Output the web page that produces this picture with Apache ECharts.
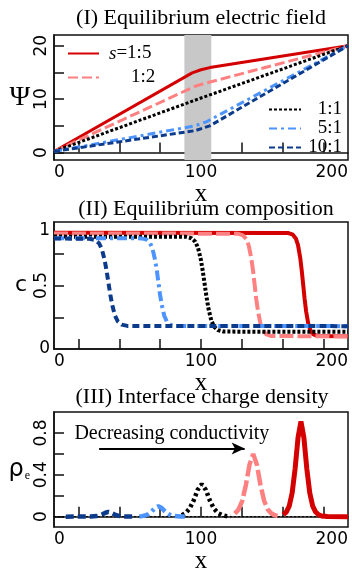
<!DOCTYPE html>
<html lang="en">
<head>
<meta charset="UTF-8">
<title>Equilibrium profiles</title>
<script src="https://cdn.jsdelivr.net/npm/echarts@6/dist/echarts.min.js"></script>
<style>
    html, body { margin: 0; padding: 0; background: #fff; }
    #main { width: 352px; height: 575px; }
</style>
</head>
<body>
<div id="main"></div>
<script type="text/javascript">

    // conductivity ratios
    var names = ['s=1:5', '1:2', '1:1', '5:1', '10:1'];

    // (I) electric potential, [x, psi]
    var psi15 = [[0, 0.2], [94, 14.9], [100, 15.5], [106, 15.9], [200, 20]];
    var psi12 = [[0, 0.2], [96, 12.4], [102, 12.9], [200, 20]];
    var psi11 = [[0, 0.2], [100, 10.2], [200, 20]];
    var psi51 = [[0, 0.2], [96, 5.0], [104, 5.8], [200, 20]];
    var psi101 = [[0, 0.2], [96, 4.1], [106, 5.0], [200, 20]];
    var band = [88.7, 107];

    // (II) composition, [x, c]
    var c15 = [[0, 0.915], [159.5, 0.913], [162.5, 0.900], [164.5, 0.871], [166, 0.818], [167.5, 0.718], [168.5, 0.621], [169.5, 0.508],
        [170.5, 0.394], [171.5, 0.297], [173, 0.197], [174.5, 0.144], [176.5, 0.115], [179.5, 0.102], [200, 0.10]];
    var c12 = [[0, 0.91], [125.1, 0.908], [128.5, 0.895], [130.8, 0.866], [132.5, 0.814], [134.2, 0.714], [135.4, 0.618], [136.5, 0.505],
        [137.6, 0.392], [138.8, 0.296], [140.5, 0.196], [142.2, 0.144], [144.5, 0.115], [147.9, 0.102], [200, 0.10]];
    var c11 = [[0, 0.885], [89.6, 0.883], [93.5, 0.872], [96.1, 0.845], [98, 0.796], [99.9, 0.704], [101.2, 0.614], [102.5, 0.51],
        [103.8, 0.406], [105.1, 0.317], [107, 0.224], [108.9, 0.176], [111.5, 0.149], [115.4, 0.137], [200, 0.135]];
    var c51 = [[0, 0.873], [59.6, 0.871], [63, 0.861], [65.3, 0.836], [67, 0.791], [68.7, 0.705], [69.9, 0.623], [71, 0.527],
        [72.1, 0.430], [73.3, 0.348], [75, 0.262], [76.7, 0.217], [79, 0.192], [82.4, 0.182], [200, 0.18]];
    var c101 = [[0, 0.87], [24.1, 0.868], [28, 0.858], [30.6, 0.833], [32.5, 0.788], [34.4, 0.703], [35.7, 0.621], [37, 0.525],
        [38.3, 0.429], [39.6, 0.347], [41.5, 0.262], [43.4, 0.217], [46, 0.192], [49.9, 0.182], [200, 0.18]];

    // (III) interface charge density, [x, rho]
    var r15 = [[156, 0.02], [158, 0.044], [160, 0.1], [162, 0.226], [164, 0.455], [166, 0.754], [168, 0.91], [170, 0.754],
        [172, 0.455], [174, 0.226], [176, 0.1], [178, 0.044], [180, 0.018], [182, 0.007], [186, 0.002], [200, 0]];
    var r12 = [[123, 0.029], [125.5, 0.067], [128, 0.149], [130.5, 0.3], [133, 0.497], [135.5, 0.6], [138, 0.497], [140.5, 0.3],
        [143, 0.149], [145.5, 0.067], [148, 0.029], [150.5, 0.012], [152, 0.006]];
    var r11 = [[87, 0.014], [89.5, 0.034], [92.25, 0.077], [95, 0.155], [97.75, 0.257], [100.5, 0.31], [103.25, 0.257], [106, 0.155],
        [108.75, 0.077], [111.5, 0.034], [114.25, 0.015], [117, 0.006], [120, 0.002]];
    var r51 = [[58, 0.002], [59.75, 0.005], [62, 0.011], [64.25, 0.025], [66.5, 0.05], [68.75, 0.083], [71, 0.1], [73.25, 0.083],
        [75.5, 0.05], [77.75, 0.025], [80, 0.011], [82.25, 0.005], [86, 0.001], [90, 0]];
    var r101 = [[8, 0], [25, 0.001], [29, 0.005], [31, 0.011], [33, 0.0225], [35, 0.037], [37, 0.045], [39, 0.037],
        [41, 0.0225], [43, 0.011], [45, 0.005], [49, 0.001], [55, 0]];
    var zeroLine = [[0, 0], [200, 0]];
    var arrowY = 0.65;
    var arrowX = [30.7, 129.7];

    // ticks
    var xTicks = [16.7, 44.4, 72.2, 100, 127.8, 155.6, 183.3];
    var xLabels = [0, 100, 200];

    var colors = ['#d40000', '#ff8080', '#000000', '#4d94ff', '#0d3b8c'];

    var myChart = echarts.init(document.getElementById('main'));

    var axisCol = '#111';

    function xAxis(gi) {
        return {
            type: 'value', gridIndex: gi, min: 0, max: 200,
            axisLine: {lineStyle: {color: axisCol, width: 1.5}},
            axisTick: {inside: true, length: 10, customValues: xTicks, lineStyle: {color: axisCol, width: 1.5}},
            axisLabel: {customValues: xLabels, fontFamily: 'DejaVu Sans', fontSize: 17, color: '#000', margin: 4,
                alignMinLabel: 'left', alignMaxLabel: 'right'},
            splitLine: {show: false},
            name: 'x', nameLocation: 'middle', nameGap: 19,
            nameTextStyle: {fontFamily: 'Liberation Serif', fontSize: 25, color: '#000'}
        };
    }

    function yAxis(gi, min, max, ticks, labels, rotate) {
        return {
            type: 'value', gridIndex: gi, min: min, max: max, position: 'left',
            axisLine: {lineStyle: {color: axisCol, width: 1.5}},
            axisTick: {inside: true, length: 10, customValues: ticks, lineStyle: {color: axisCol, width: 1.5}},
            axisLabel: {customValues: labels, rotate: rotate, fontFamily: 'DejaVu Sans', fontSize: 17, color: '#000', margin: 4},
            splitLine: {show: false}
        };
    }

    var y1 = yAxis(0, -1.4, 22, [0, 5, 10, 15, 20], [0, 10, 20], 90);
    y1.name = 'Ψ'; y1.nameLocation = 'middle'; y1.nameRotate = 0; y1.nameGap = 19;
    y1.nameTextStyle = {fontFamily: 'Liberation Serif', fontSize: 28, color: '#000'};

    var y2 = yAxis(1, 0, 1, [0.25, 0.5, 0.75], [0.5], 90);
    y2.name = 'c'; y2.nameLocation = 'middle'; y2.nameRotate = 0; y2.nameGap = 27;
    y2.nameTextStyle = {fontFamily: 'DejaVu Sans', fontSize: 22, color: '#000'};
    // upright 0 and 1
    var y2b = yAxis(1, 0, 1, [], [0, 1], 0);
    y2b.axisLine = {show: false};
    y2b.axisTick = {show: false};
    y2b.axisLabel.verticalAlignMaxLabel = 'top';

    var y3 = yAxis(2, -0.1, 1.0, [0, 0.2, 0.4, 0.6, 0.8], [0, 0.4, 0.8], 90);
    y3.name = '{r|ρ}{e|e}'; y3.nameLocation = 'middle'; y3.nameRotate = 0; y3.nameGap = 21;
    y3.nameTextStyle = {
        color: '#000',
        rich: {
            r: {fontFamily: 'DejaVu Sans', fontSize: 24, color: '#000'},
            e: {fontFamily: 'Liberation Serif', fontSize: 12, color: '#000', verticalAlign: 'bottom', padding: [8, 0, 0, 1]}
        }
    };

    // dash patterns per panel
    var dash1 = ['solid', [10, 4], [3, 2], [8, 4, 3, 4], [6, 3]];
    var dash2 = ['solid', [14, 4], [3, 2], [10, 4, 3, 4], [7, 4]];
    var dash3 = ['solid', [16, 4], [3, 3], [10, 4, 3, 4], [8, 4]];

    function line(name, data, gi, yi, k, width, dash) {
        return {
            name: name, type: 'line', xAxisIndex: gi, yAxisIndex: yi, data: data,
            symbol: 'none', smooth: false, z: 3,
            lineStyle: {color: colors[k], width: width, type: dash[k], cap: 'butt'},
            itemStyle: {color: colors[k]}
        };
    }

    var panel1 = [psi15, psi12, psi11, psi51, psi101];
    var panel2 = [c15, c12, c11, c51, c101];
    var panel3 = [r15, r12, r11, r51, r101];

    var series = [];
    // interface band
    series.push({
        type: 'line', xAxisIndex: 0, yAxisIndex: 0, data: [], symbol: 'none', z: 1, silent: true,
        markArea: {silent: true, itemStyle: {color: '#c8c8c8'}, data: [[{xAxis: band[0]}, {xAxis: band[1]}]]}
    });
    for (var i = 0; i < 5; i++) {
        series.push(line(names[i], panel1[i], 0, 0, i, 3, dash1));
    }
    for (var i = 0; i < 5; i++) {
        series.push(line(names[i], panel2[i], 1, 1, i, 4, dash2));
    }
    series.push({
        name: 'zero', type: 'line', xAxisIndex: 2, yAxisIndex: 3, data: zeroLine, symbol: 'none', z: 2,
        lineStyle: {color: '#000', width: 1, type: [2, 2]},
        markLine: {
            silent: true, symbol: ['none', 'arrow'], symbolSize: [9, 13],
            lineStyle: {color: '#000', width: 2, type: 'solid'},
            label: {show: true, position: 'middle', formatter: 'Decreasing conductivity', distance: 5,
                fontFamily: 'Liberation Serif', fontSize: 20, color: '#000'},
            data: [[{coord: [arrowX[0], arrowY]}, {coord: [arrowX[1], arrowY]}]]
        }
    });
    for (var i = 0; i < 5; i++) {
        series.push(line(names[i], panel3[i], 2, 3, i, i === 0 ? 5 : 4.5, dash3));
    }

    var titleFont = {fontFamily: 'Liberation Serif', fontSize: 22, fontWeight: 'normal', color: '#000'};

    var option = {
        animation: false,
        title: [
            {text: '(I) Equilibrium electric field', left: 201, top: 7, textAlign: 'center', padding: 0, textStyle: titleFont},
            {text: '(II) Equilibrium composition', left: 206, top: 198, textAlign: 'center', padding: 0, textStyle: titleFont},
            {text: '(III) Interface charge density', left: 202, top: 386, textAlign: 'center', padding: 0, textStyle: titleFont}
        ],
        legend: [
            {
                data: ['s=1:5', '1:2'], orient: 'vertical', left: 67, top: 44, padding: 0,
                itemWidth: 31, itemHeight: 14, itemGap: 5,
                itemStyle: {opacity: 0},
                formatter: function (n) {
                    if (n === 's=1:5') return '{g| }{i|s}{t|=1:5}';
                    return '{sp| }{t|' + n + '}';
                },
                textStyle: {
                    rich: {
                        g: {width: 5},
                        sp: {width: 27},
                        i: {fontFamily: 'Liberation Serif', fontStyle: 'italic', fontSize: 19, lineHeight: 16, color: '#000'},
                        t: {fontFamily: 'Liberation Serif', fontSize: 19, lineHeight: 16, color: '#000'}
                    }
                }
            },
            {
                data: ['1:1', '5:1', '10:1'], orient: 'vertical', left: 268, top: 100, padding: 0,
                itemWidth: 32, itemHeight: 14, itemGap: 0,
                itemStyle: {opacity: 0},
                formatter: function (n) {
                    return '{r|' + n + '}';
                },
                textStyle: {
                    rich: {
                        r: {fontFamily: 'Liberation Serif', fontSize: 19, lineHeight: 16, color: '#000', width: 36, align: 'right'}
                    }
                }
            }
        ],
        grid: [
            {left: 54, right: 4, top: 35, height: 125, show: true, borderColor: axisCol, borderWidth: 1.5},
            {left: 54, right: 4, top: 222, height: 127, show: true, borderColor: axisCol, borderWidth: 1.5},
            {left: 54, right: 4, top: 412, height: 125, show: true, borderColor: axisCol, borderWidth: 1.5}
        ],
        xAxis: [xAxis(0), xAxis(1), xAxis(2)],
        yAxis: [y1, y2, y2b, y3],
        series: series
    };

    myChart.setOption(option);
</script>
</body>
</html>
